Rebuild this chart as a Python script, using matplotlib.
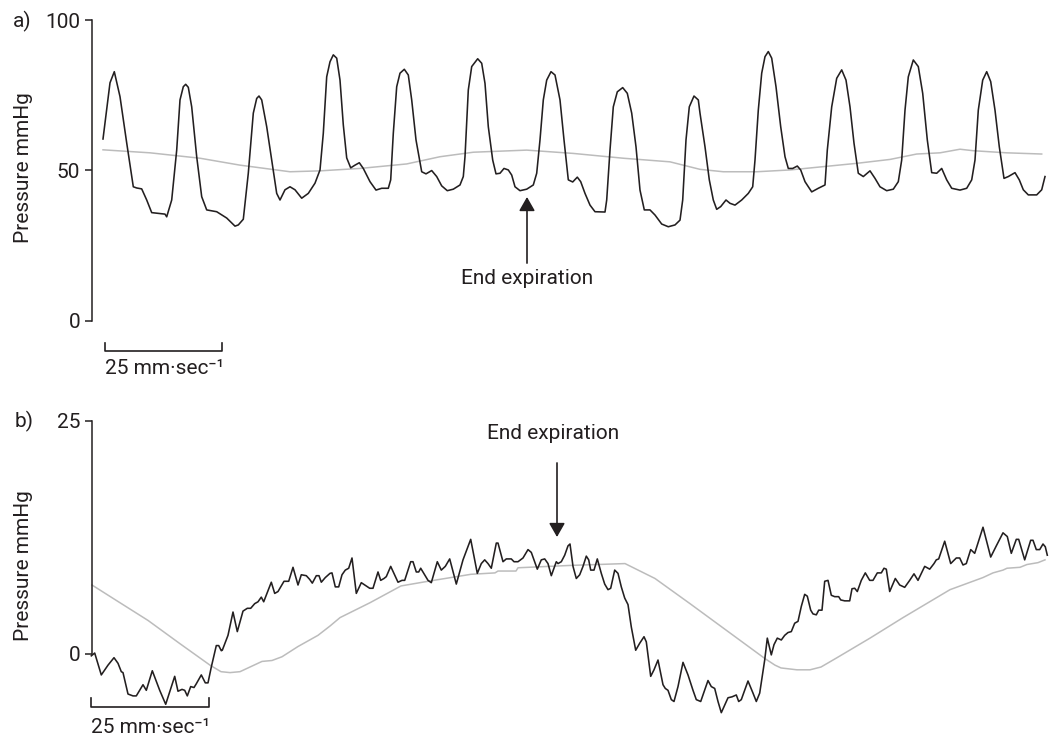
import matplotlib.pyplot as plt

# ---- panel a: pulse pressure trace (time in px units from the axis) ----
a_pulse_t = [11, 18, 22.3, 28, 34.7, 41.3, 44.7, 49.7, 54.7, 59.7,
             64.7, 73, 74.7, 79.7, 84.7, 88, 91.3, 93.7, 96.3, 99.7,
             104.7, 109.7, 114.7, 124.7, 134.7, 143, 146.3, 151.3, 156.3, 161.3,
             164.7, 167, 169.7, 174.7, 179.7, 184.7, 188, 193, 198, 203,
             209.7, 216.3, 223, 228, 231.3, 234.7, 238, 241.3, 244.7, 248,
             251.3, 254.7, 258.7, 263, 267.3, 271.3, 278, 284, 289.7, 296.3,
             298.7, 301.3, 304.7, 308, 312.3, 316.3, 319.7, 324, 329.7, 334,
             339.7, 344.7, 349.7, 355.3, 361.3, 368, 371.3, 373, 376.3, 379.7,
             385.7, 389.7, 393, 396.3, 400.7, 404, 408, 412, 416.3, 419.7,
             423, 428, 434.7, 441.3, 444.7, 448, 451.3, 454.7, 459, 463,
             468, 472, 476.3, 480.7, 485.3, 488.7, 493, 498, 503, 513,
             514.7, 518, 521.3, 525.3, 530.7, 535.3, 539.7, 544, 548, 552.3,
             558, 563, 569.7, 576.3, 583, 588, 590.7, 594, 597.3, 602,
             606.3, 608, 613, 617.3, 621.3, 624.7, 628.7, 634, 638, 643,
             649.7, 656.3, 660.7, 663, 666.3, 669.7, 673, 676.3, 679.7, 684,
             688.7, 693, 696.3, 700.7, 705.3, 708.7, 713, 719.7, 726.3, 733,
             735.3, 739.7, 744.7, 749.7, 754, 758, 762, 766.3, 771.3, 778,
             783, 788, 794.7, 801.3, 806.3, 809.7, 813, 816.3, 821.3, 826.3,
             830.7, 835.3, 839.7, 844.7, 849.7, 854.7, 859.7, 868, 874.7, 879.7,
             883, 886.3, 890.7, 894.7, 898.7, 903, 907.3, 912, 916.3, 923,
             927.3, 931.3, 936.3, 944.7, 949.7, 953]
a_pulse_p = [60.4, 79.1, 82.8, 74.5, 59.1, 44.5, 44.1, 43.8, 40.1, 35.9,
             35.7, 35.4, 34.5, 40.1, 56.7, 73.4, 77.8, 78.6, 77.6, 71.1,
             54.5, 41.2, 36.8, 36.2, 34.1, 31.4, 31.8, 33.7, 49.0, 69.0,
             73.9, 74.7, 73.4, 64.5, 53.4, 42.3, 40.1, 43.5, 44.5, 43.5,
             40.7, 42.3, 45.7, 50.1, 62.3, 81.1, 86.1, 88.4, 87.3, 80.0,
             65.1, 54.1, 50.8, 51.7, 52.5, 50.6, 46.2, 43.4, 44.0, 44.0,
             46.8, 62.3, 77.8, 82.3, 83.6, 81.7, 73.4, 60.1, 49.5, 48.8,
             49.9, 47.9, 44.8, 43.2, 43.7, 45.1, 47.9, 54.5, 76.7, 84.5,
             87.1, 85.6, 78.9, 64.5, 53.4, 48.8, 49.0, 50.6, 50.1, 48.4,
             44.5, 43.2, 43.7, 45.1, 49.0, 60.1, 73.4, 80.0, 82.8, 81.7,
             73.4, 60.1, 46.8, 46.1, 47.7, 46.2, 42.3, 38.4, 36.2, 36.1,
             40.1, 56.7, 71.1, 76.1, 77.5, 75.6, 69.0, 57.8, 43.4, 36.8,
             36.8, 35.1, 32.1, 31.2, 31.8, 33.4, 40.1, 60.1, 71.1, 74.7,
             73.4, 69.0, 57.8, 46.8, 40.1, 37.0, 37.9, 40.1, 39.0, 38.4,
             40.1, 42.3, 44.5, 53.4, 70.0, 82.3, 87.8, 89.5, 87.3, 77.8,
             64.5, 54.5, 50.6, 50.6, 51.4, 50.1, 46.2, 42.8, 44.0, 45.1,
             56.7, 71.1, 80.6, 83.4, 80.0, 71.1, 59.0, 49.0, 47.9, 49.8,
             47.3, 44.5, 43.2, 43.7, 46.2, 53.4, 70.0, 81.1, 86.7, 84.5,
             75.6, 60.1, 49.2, 49.0, 50.6, 46.8, 44.0, 43.4, 44.0, 46.8,
             53.4, 70.0, 80.0, 82.8, 79.5, 70.0, 57.8, 47.3, 47.9, 49.2,
             46.8, 43.5, 41.8, 41.8, 43.5, 47.9]

# grey respiratory baseline, panel a
a_resp_t = [11, 58, 108, 148, 198, 228, 268, 314.7, 348, 381.3,
            434.7, 481.3, 531.3, 578, 608, 631.3, 664.7, 698, 731.3, 764.7,
            798, 824.7, 848, 868, 881.3, 914.7, 949.7]
a_resp_p = [56.8, 55.8, 54.0, 51.7, 49.5, 49.8, 50.6, 52.1, 54.5, 56.0,
            56.7, 55.6, 54.0, 52.8, 50.3, 49.5, 49.5, 50.1, 51.2, 52.3,
            53.6, 55.4, 55.8, 57.0, 56.5, 55.8, 55.4]

# ---- panel b ----
b_press_t = [-0.7, 2.7, 9.3, 16, 22, 26, 29.3, 31, 36, 41,
             44.3, 51, 54.3, 60.3, 67.7, 73.7, 82.7, 86, 90, 92.7,
             95.3, 98.7, 102, 104.3, 109.3, 113.3, 116, 119.3, 124.3, 126.7,
             129.3, 130.3, 136, 141, 145.3, 151, 155.3, 158.7, 162.7, 166,
             169.3, 171.7, 179.3, 182.7, 186, 192, 196.7, 201, 206, 209.3,
             214.3, 217.7, 220.3, 224.3, 227, 229.3, 233.3, 238, 240, 243.3,
             246.7, 250, 253.3, 256.7, 260, 264.3, 269.3, 274.3, 277.7, 281,
             286, 288.7, 292, 294.3, 298.7, 306, 310, 312.7, 318.7, 321,
             324.3, 326.7, 328.7, 332.7, 336, 339.3, 345.3, 349.3, 353.3, 357.7,
             364.3, 371, 378.7, 385.3, 389.3, 392.7, 396, 399.3, 404.3, 406,
             411, 414.3, 419.3, 422, 426, 431, 436, 439.3, 445.3, 449.3,
             452.7, 456, 459.3, 464.3, 466, 469.3, 472.7, 476, 478, 481,
             484.3, 487.7, 491, 494.3, 496.7, 498.7, 502, 505.3, 509.3, 512.7,
             516, 518.7, 522.7, 526, 529.3, 532.7, 536, 539.3, 543.7, 547.7,
             552, 554.3, 558.7, 562, 566, 569.3, 571, 573.3, 576, 579.3,
             582, 586, 591, 596, 601, 604.3, 608.7, 616, 619.3, 622.7,
             626, 629.3, 632.7, 636, 640, 644.3, 646.7, 649.3, 656, 661,
             664.3, 667.7, 672.7, 675.3, 679.3, 682, 685.3, 689.3, 692.7, 696,
             699.3, 702.7, 706, 709.3, 712.7, 715.3, 718.7, 721, 724.3, 726.7,
             730, 732.7, 736, 739.3, 742.7, 746.7, 748.7, 752.7, 757.7, 760,
             762.7, 765.3, 769.3, 773.3, 777.7, 781, 785.3, 789.3, 792, 794.3,
             797.7, 803.3, 807.7, 812.7, 817.7, 822, 826, 832.7, 837.7, 842,
             844.3, 846.7, 852.7, 858.7, 864.3, 867.7, 871, 874.3, 878.7, 882.7,
             891, 898.7, 904.3, 911, 915.3, 919.3, 924.3, 926.7, 932.7, 938.7,
             941, 944.3, 947.7, 951, 953.3, 955.3]
b_press_p = [-0.2, 0.1, -2.25, -1.2, -0.4, -1.0, -1.9, -2.0, -4.3, -4.5,
             -4.5, -3.3, -3.9, -1.8, -3.9, -5.4, -2.4, -4.0, -3.8, -3.9,
             -4.5, -3.5, -3.6, -3.2, -2.25, -3.1, -3.1, -1.4, 0.9, 0.9,
             0.35, 0.4, 2.0, 4.5, 2.4, 4.6, 4.9, 4.9, 5.4, 5.6,
             6.1, 5.6, 7.7, 6.5, 6.7, 7.8, 7.8, 9.3, 7.4, 8.5,
             8.4, 8.0, 7.6, 8.4, 8.4, 7.7, 8.2, 8.65, 8.7, 7.2,
             7.2, 8.5, 9.0, 9.2, 10.3, 6.5, 7.65, 7.3, 7.05, 7.05,
             8.8, 7.9, 8.1, 8.3, 9.4, 7.7, 7.9, 7.9, 9.9, 9.9,
             8.8, 8.8, 9.2, 8.5, 7.9, 7.65, 9.9, 9.0, 9.4, 10.2,
             7.5, 10.1, 12.3, 8.65, 9.7, 10.1, 9.7, 9.2, 11.9, 11.9,
             9.9, 10.2, 10.2, 9.9, 9.9, 10.3, 11.2, 10.9, 9.1, 10.1,
             10.2, 9.7, 8.4, 9.9, 9.7, 9.9, 10.6, 11.6, 11.8, 9.4,
             8.1, 8.5, 9.4, 10.5, 10.1, 9.0, 9.0, 10.2, 8.65, 7.5,
             6.9, 7.05, 9.0, 8.65, 7.2, 6.0, 5.3, 2.9, 0.4, 1.15,
             1.85, 1.3, -2.4, -1.7, -0.65, -2.4, -3.3, -3.7, -3.9, -4.9,
             -5.1, -3.5, -0.9, -2.25, -3.9, -4.9, -5.1, -2.85, -3.5, -3.7,
             -5.1, -6.3, -5.5, -4.7, -4.6, -4.4, -5.1, -4.9, -2.9, -4.2,
             -5.1, -4.2, -0.65, 1.7, -0.1, 1.0, 1.7, 1.5, 2.0, 2.3,
             2.4, 3.3, 3.5, 5.1, 6.4, 6.2, 4.7, 4.3, 4.2, 4.7,
             4.7, 7.8, 7.9, 6.3, 6.15, 6.15, 5.8, 5.7, 5.7, 7.0,
             7.05, 6.7, 7.9, 8.7, 7.9, 7.9, 8.7, 8.7, 9.2, 9.1,
             6.7, 8.1, 7.4, 7.15, 7.9, 8.6, 7.9, 9.4, 9.1, 9.7,
             10.1, 10.2, 12.1, 9.7, 10.3, 10.3, 9.55, 9.7, 11.2, 10.8,
             13.6, 10.4, 11.6, 13.0, 12.6, 10.8, 12.3, 12.3, 10.1, 12.2,
             12.2, 11.2, 11.2, 11.8, 11.5, 10.6]

b_resp_t = [0, 25, 56, 88, 118, 129, 138, 148, 156, 170,
            180, 190, 206, 226, 238, 248, 278, 309, 336, 379,
            403, 406, 424, 426, 478, 533, 563, 598, 673, 683,
            689, 705, 718, 729, 745, 778, 811, 858, 891, 901,
            911, 915, 928, 935, 946, 953]
b_resp_p = [7.4, 5.7, 3.6, 1.1, -1.2, -1.9, -2.0, -1.9, -1.5, -0.8,
            -0.7, -0.3, 0.8, 2.0, 3.0, 3.9, 5.5, 7.3, 7.8, 8.55,
            8.7, 8.9, 8.9, 9.25, 9.5, 9.7, 8.1, 5.4, -0.5, -1.2,
            -1.5, -1.7, -1.7, -1.4, -0.4, 1.7, 3.9, 6.9, 8.2, 8.7,
            9.0, 9.2, 9.3, 9.6, 9.8, 10.1]

plt.rcParams['font.family'] = ['Roboto', 'DejaVu Sans']
ink = '#231f20'
grey = '#bcbcbc'
fs = 15

W, H = 1062, 736
fig = plt.figure(figsize=(W / 100, H / 100), dpi=100)


def px_axes(left, top, right, bottom):
    return fig.add_axes([left / W, 1 - bottom / H, (right - left) / W, (bottom - top) / H])


ax_a = px_axes(92, 20, 1052, 320.5)
ax_a.set_xlim(0, 960)
ax_a.set_ylim(0, 100)
ax_b = px_axes(92, 421, 1052, 719.2)
ax_b.set_xlim(0, 960)
ax_b.set_ylim(-7, 25)

for ax, top, ticks in [(ax_a, 100, [0, 50, 100]), (ax_b, 25, [0, 25])]:
    for s in ['top', 'right', 'bottom']:
        ax.spines[s].set_visible(False)
    ax.spines['left'].set_bounds(0, top)
    ax.spines['left'].set_color(ink)
    ax.spines['left'].set_linewidth(1.1)
    ax.set_xticks([])
    ax.set_yticks(ticks)
    ax.tick_params(axis='y', direction='out', length=5, width=1.1, pad=3.5,
                   labelsize=fs, colors=ink)
    ax.patch.set_alpha(0)

ax_a.plot(a_resp_t, a_resp_p, color=grey, lw=1.1, clip_on=False)
ax_a.plot(a_pulse_t, a_pulse_p, color=ink, lw=1.15, clip_on=False)
ax_b.plot(b_resp_t, b_resp_p, color=grey, lw=1.1, clip_on=False)
ax_b.plot(b_press_t, b_press_p, color=ink, lw=1.15, clip_on=False)

# panel letters and axis titles
fig.text(13 / W, 1 - 21 / H, 'a)', fontsize=fs, color=ink, va='center', ha='left')
fig.text(15 / W, 1 - 421 / H, 'b)', fontsize=fs, color=ink, va='center', ha='left')
fig.text(24 / W, 1 - 168 / H, 'Pressure mmHg', fontsize=fs, color=ink,
         rotation=90, va='center', ha='center')
fig.text(24 / W, 1 - 566 / H, 'Pressure mmHg', fontsize=fs, color=ink,
         rotation=90, va='center', ha='center')

# End expiration arrows
arrow = dict(arrowstyle='-|>,head_length=0.7,head_width=0.4', color=ink, lw=1.2,
             shrinkA=0, shrinkB=0, mutation_scale=12)
ax_a.annotate('', xy=(435, 41.1), xytext=(435, 19.1), arrowprops=arrow,
              annotation_clip=False)
ax_a.text(435, 14.1, 'End expiration', fontsize=fs, color=ink, ha='center', va='center')
ax_b.annotate('', xy=(465, 12.55), xytext=(465, 20.5), arrowprops=arrow,
              annotation_clip=False)
ax_b.text(461, 23.7, 'End expiration', fontsize=fs, color=ink, ha='center', va='center')

# 25 mm/sec scale bars
ax_a.plot([13, 13, 130, 130], [-7.5, -10.15, -10.15, -7.5], color=ink, lw=1.2, clip_on=False)
ax_a.text(13, -16.1, '25 mm·sec⁻¹', fontsize=fs, color=ink, ha='left', va='center',
          clip_on=False)
ax_b.plot([-1, -1, 117, 117], [-4.7, -5.7, -5.7, -4.7], color=ink, lw=1.2, clip_on=False)
ax_b.text(-1, -7.94, '25 mm·sec⁻¹', fontsize=fs, color=ink, ha='left', va='center',
          clip_on=False)

fig.savefig('out.png', dpi=100)
